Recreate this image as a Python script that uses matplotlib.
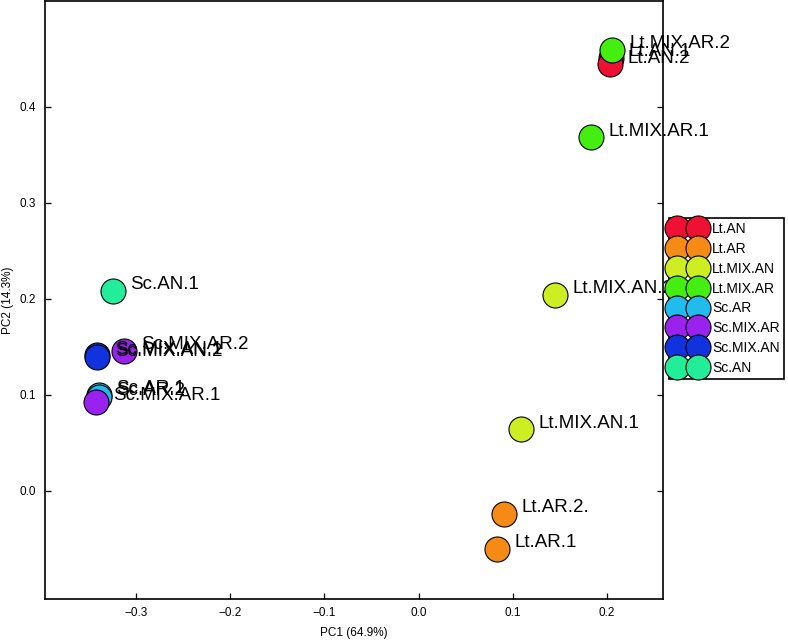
import matplotlib
matplotlib.use("Agg")
from matplotlib import pyplot as plt
from matplotlib.lines import Line2D

plt.rcParams["font.family"] = ["Liberation Sans", "DejaVu Sans"]

# groups in legend order, with colours
groups = ["Lt.AN", "Lt.AR", "Lt.MIX.AN", "Lt.MIX.AR", "Sc.AR", "Sc.MIX.AR", "Sc.MIX.AN", "Sc.AN"]
colors = ["#EE1133", "#F58A14", "#CCEE22", "#44EE11", "#22BBEE", "#9922EE", "#1133DD", "#22EE99"]

# samples: label, group, PC1, PC2
labels = ["Lt.AN.1", "Lt.AN.2", "Lt.AR.1", "Lt.AR.2.", "Lt.MIX.AN.1", "Lt.MIX.AN.2",
          "Lt.MIX.AR.1", "Lt.MIX.AR.2", "Sc.AR.1", "Sc.AR.2", "Sc.MIX.AR.1", "Sc.MIX.AR.2",
          "Sc.MIX.AN.1", "Sc.MIX.AN.2", "Sc.AN.1"]
sample_group = ["Lt.AN", "Lt.AN", "Lt.AR", "Lt.AR", "Lt.MIX.AN", "Lt.MIX.AN",
                "Lt.MIX.AR", "Lt.MIX.AR", "Sc.AR", "Sc.AR", "Sc.MIX.AR", "Sc.MIX.AR",
                "Sc.MIX.AN", "Sc.MIX.AN", "Sc.AN"]
pc1 = [0.2044, 0.2033, 0.0832, 0.0906, 0.1087, 0.1450,
       0.1830, 0.2055, -0.3398, -0.3398, -0.3430, -0.3130,
       -0.3410, -0.3410, -0.3250]
pc2 = [0.451, 0.444, -0.060, -0.024, 0.064, 0.204,
       0.368, 0.459, 0.100, 0.098, 0.093, 0.146,
       0.141, 0.139, 0.208]

fig = plt.figure(figsize=(7.88, 6.4), dpi=100)
ax = fig.add_axes([44.7 / 788, 1 - 598.5 / 640, (663 - 44.7) / 788, 597.5 / 640])

for g, c in zip(groups, colors):
    xs = [x for x, sg in zip(pc1, sample_group) if sg == g]
    ys = [y for y, sg in zip(pc2, sample_group) if sg == g]
    ax.plot(xs, ys, "o", ms=18, mfc=c, mec="black", mew=0.8, linestyle="none", zorder=2)

for lab, x, y in zip(labels, pc1, pc2):
    ax.annotate(lab, (x, y), xytext=(12.5, 4.5), textcoords="offset points",
                ha="left", va="center", fontsize=13.5, color="black",
                annotation_clip=False, clip_on=False, zorder=3)

ax.set_xlim(-0.397, 0.2596)
ax.set_ylim(-0.112, 0.510)
ax.set_xticks([-0.3, -0.2, -0.1, 0.0, 0.1, 0.2])
ax.set_yticks([0.0, 0.1, 0.2, 0.3, 0.4])
ax.tick_params(direction="in", length=4.5, width=0.9, labelsize=8.5, pad=6,
               right=True)
for s in ax.spines.values():
    s.set_linewidth(1.2)
ax.set_xlabel("PC1 (64.9%)", fontsize=8.5, labelpad=6)
ax.set_ylabel("PC2 (14.3%)", fontsize=8.5)
ax.yaxis.set_label_coords(-0.0497, 0.5)

handles = [Line2D([], [], marker="o", ms=18, mfc=c, mec="black", mew=0.8, linestyle="none")
           for c in colors]
leg = ax.legend(handles, groups, loc="upper left", bbox_to_anchor=(669 / 788, 1 - 218 / 640),
                bbox_transform=fig.transFigure, numpoints=2, fontsize=10,
                handlelength=2.11, handletextpad=0.7, labelspacing=0.42,
                borderpad=0.3, borderaxespad=0, fancybox=False, framealpha=1,
                edgecolor="black")
leg.get_frame().set_linewidth(1.2)
leg.set_zorder(5)

fig.savefig("out.png", dpi=100)
